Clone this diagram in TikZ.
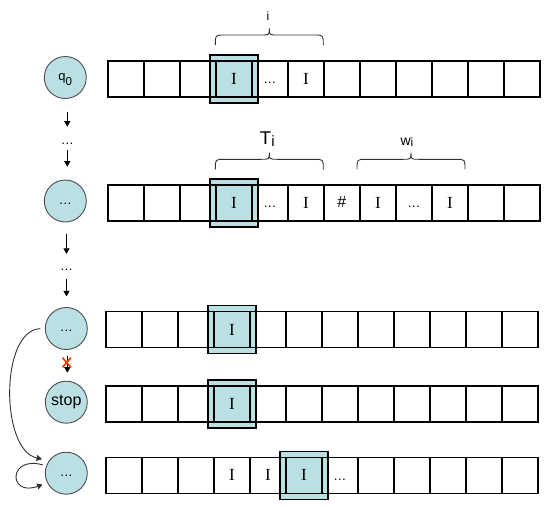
\documentclass[tikz,border=0pt]{standalone}
\usepackage{fontspec}
\setmainfont{Liberation Sans}
\newfontfamily\serifI{Liberation Serif}
\usetikzlibrary{arrows.meta,backgrounds}
\definecolor{cellfill}{RGB}{187,224,227}
\definecolor{crossred}{RGB}{255,51,0}
\definecolor{linegray}{RGB}{50,50,50}

\tikzset{
  state/.style={circle, draw=black!70, fill=cellfill, line width=0.9pt, minimum size=42pt,
    inner sep=0pt, text height=6pt, text depth=0pt, font=\fontsize{13}{13}\selectfont},
  cell/.style={draw=black, line width=1.2pt, minimum width=36pt, minimum height=36pt,
    inner sep=0pt, anchor=north west},
  headbox/.style={draw=black, line width=1.2pt, fill=cellfill, minimum size=48pt, inner sep=0pt},
  sym/.style={font=\serifI\fontsize{17}{17}\selectfont, inner sep=0pt},
  dotsym/.style={font=\fontsize{13}{13}\selectfont, inner sep=0pt, anchor=base},
  flow/.style={-{Triangle[length=5.5pt,width=6pt]}, line width=0.9pt, draw=black},
  curveflow/.style={-{Triangle[length=5.5pt,width=6pt]}, line width=0.9pt, draw=linegray},
  bracestyle/.style={draw=linegray, line width=0.9pt},
  bracelabel/.style={font=\fontsize{16}{16}\selectfont, inner sep=0pt, anchor=base},
}

\newcommand\tapebrace[3]{%
  \pgfmathsetmacro\bxm{(#1+#2)/2}%
  \pgfmathsetmacro\byl{#3-10}%
  \pgfmathsetmacro\byt{#3-16.7}%
  \draw[bracestyle] (#1,#3) .. controls (#1,\byl) .. ({#1+9},\byl) -- ({\bxm-8},\byl)
     .. controls (\bxm,\byl) .. (\bxm,\byt) .. controls (\bxm,\byl) .. ({\bxm+8},\byl)
     -- ({#2-9},\byl) .. controls (#2,\byl) .. (#2,#3);
}

\begin{document}
\begin{tikzpicture}[x=1pt,y=-1pt]
\useasboundingbox (0,0) rectangle (546,506);

% tapes
\foreach \r/\x/\y in {1/107.3/60.3, 2/107.3/184.3, 3/105.3/311.2, 4/105.3/385.3, 5/105.3/456.5}{
  \foreach \k in {1,...,12}{
    \node[cell] (t\r-\k) at ({\x+36*(\k-1)},\y) {};
  }
}

% read/write heads (behind the tape lines)
\begin{scope}[on background layer]
  \node[headbox] (h1) at (t1-4) {};
  \node[headbox] (h2) at (t2-4) {};
  \node[headbox] (h3) at (t3-4) {};
  \node[headbox] (h4) at (t4-4) {};
  \node[headbox] (h5) at (t5-6) {};
\end{scope}

% tape contents
\node[sym] (s1a) at (t1-4) {I};
\node[dotsym] (s1b) at ([yshift=-5pt]t1-5.center) {…};
\node[sym] (s1c) at (t1-6) {I};

\node[sym] (s2a) at (t2-4) {I};
\node[dotsym] (s2b) at ([yshift=-5pt]t2-5.center) {…};
\node[sym] (s2c) at (t2-6) {I};
\node[font=\fontsize{16}{16}\selectfont, inner sep=0pt] (s2d) at ([yshift=1pt]t2-7.center) {\#};
\node[sym] (s2e) at (t2-8) {I};
\node[dotsym] (s2f) at ([yshift=-5pt]t2-9.center) {…};
\node[sym] (s2g) at (t2-10) {I};

\node[sym] (s3a) at (t3-4) {I};
\node[sym] (s4a) at (t4-4) {I};

\node[sym] (s5a) at (t5-4) {I};
\node[sym] (s5b) at (t5-5) {I};
\node[sym] (s5c) at (t5-6) {I};
\node[dotsym] (s5d) at ([yshift=-5pt]t5-7.center) {…};

% braces
\tapebrace{215.3}{323.3}{45}
\tapebrace{215.3}{323.3}{169.3}
\tapebrace{357}{465}{169.3}
\node[bracelabel, font=\fontsize{12}{12}\selectfont] (li) at (268,20.7) {i};
\node[bracelabel, font=\fontsize{18.5}{18.5}\selectfont] (lT) at (267.3,144) {T\raisebox{-2.7pt}{\fontsize{15}{15}\selectfont i}};
\node[bracelabel, font=\fontsize{14}{14}\selectfont] (lw) at (407,145.3) {w\raisebox{-1.4pt}{\fontsize{12}{12}\selectfont i}};

% states
\node[state] (c1) at (65.3,77.5) {\fontsize{13}{13}\selectfont q\raisebox{-4.5pt}{\fontsize{11.5}{11.5}\selectfont 0}};
\node[state] (c2) at (65.3,201) {…};
\node[state] (c3) at (66.3,328.5) {…};
\node[state, font=\fontsize{16}{16}\selectfont] (c4) at (66.3,402.2) {stop};
\node[state] (c5) at (66.3,473.2) {…};

% vertical transitions
\coordinate (a1s) at (67.3,111.7); \coordinate (a1e) at (67.3,126.7);
\coordinate (a2s) at (67.3,150);   \coordinate (a2e) at (67.3,166.7);
\coordinate (a3s) at (66.5,233.6); \coordinate (a3e) at (66.5,253.9);
\coordinate (a4s) at (66.5,279);   \coordinate (a4e) at (66.5,296.4);
\coordinate (a5s) at (67.3,356);   \coordinate (a5e) at (67.3,372.7);
\draw[flow] (a1s) -- (a1e);
\draw[flow] (a2s) -- (a2e);
\draw[flow] (a3s) -- (a3e);
\draw[flow] (a4s) -- (a4e);
\draw[flow] (a5s) -- (a5e);
\node[dotsym] (d1) at (67.3,144) {…};
\node[dotsym] (d2) at (66.5,270) {…};

% red cross over the blocked transition
\coordinate (xc) at (66.7,362.5);
\draw[crossred, line width=1.6pt] ([xshift=-4.2pt,yshift=4.8pt]xc) -- ([xshift=4.2pt,yshift=-4.8pt]xc)
                                  ([xshift=4.2pt,yshift=4.8pt]xc) -- ([xshift=-4.2pt,yshift=-4.8pt]xc);

% curved transition and self loop
\draw[curveflow, shorten <=4.6pt, shorten >=7pt] (c3.west) .. controls (0,330) and (0,450) .. (c5.144);
\draw[curveflow, shorten <=3.4pt, shorten >=4.9pt] (c5.160) .. controls (8,455) and (8,497) .. (c5.207);
\end{tikzpicture}
\end{document}
